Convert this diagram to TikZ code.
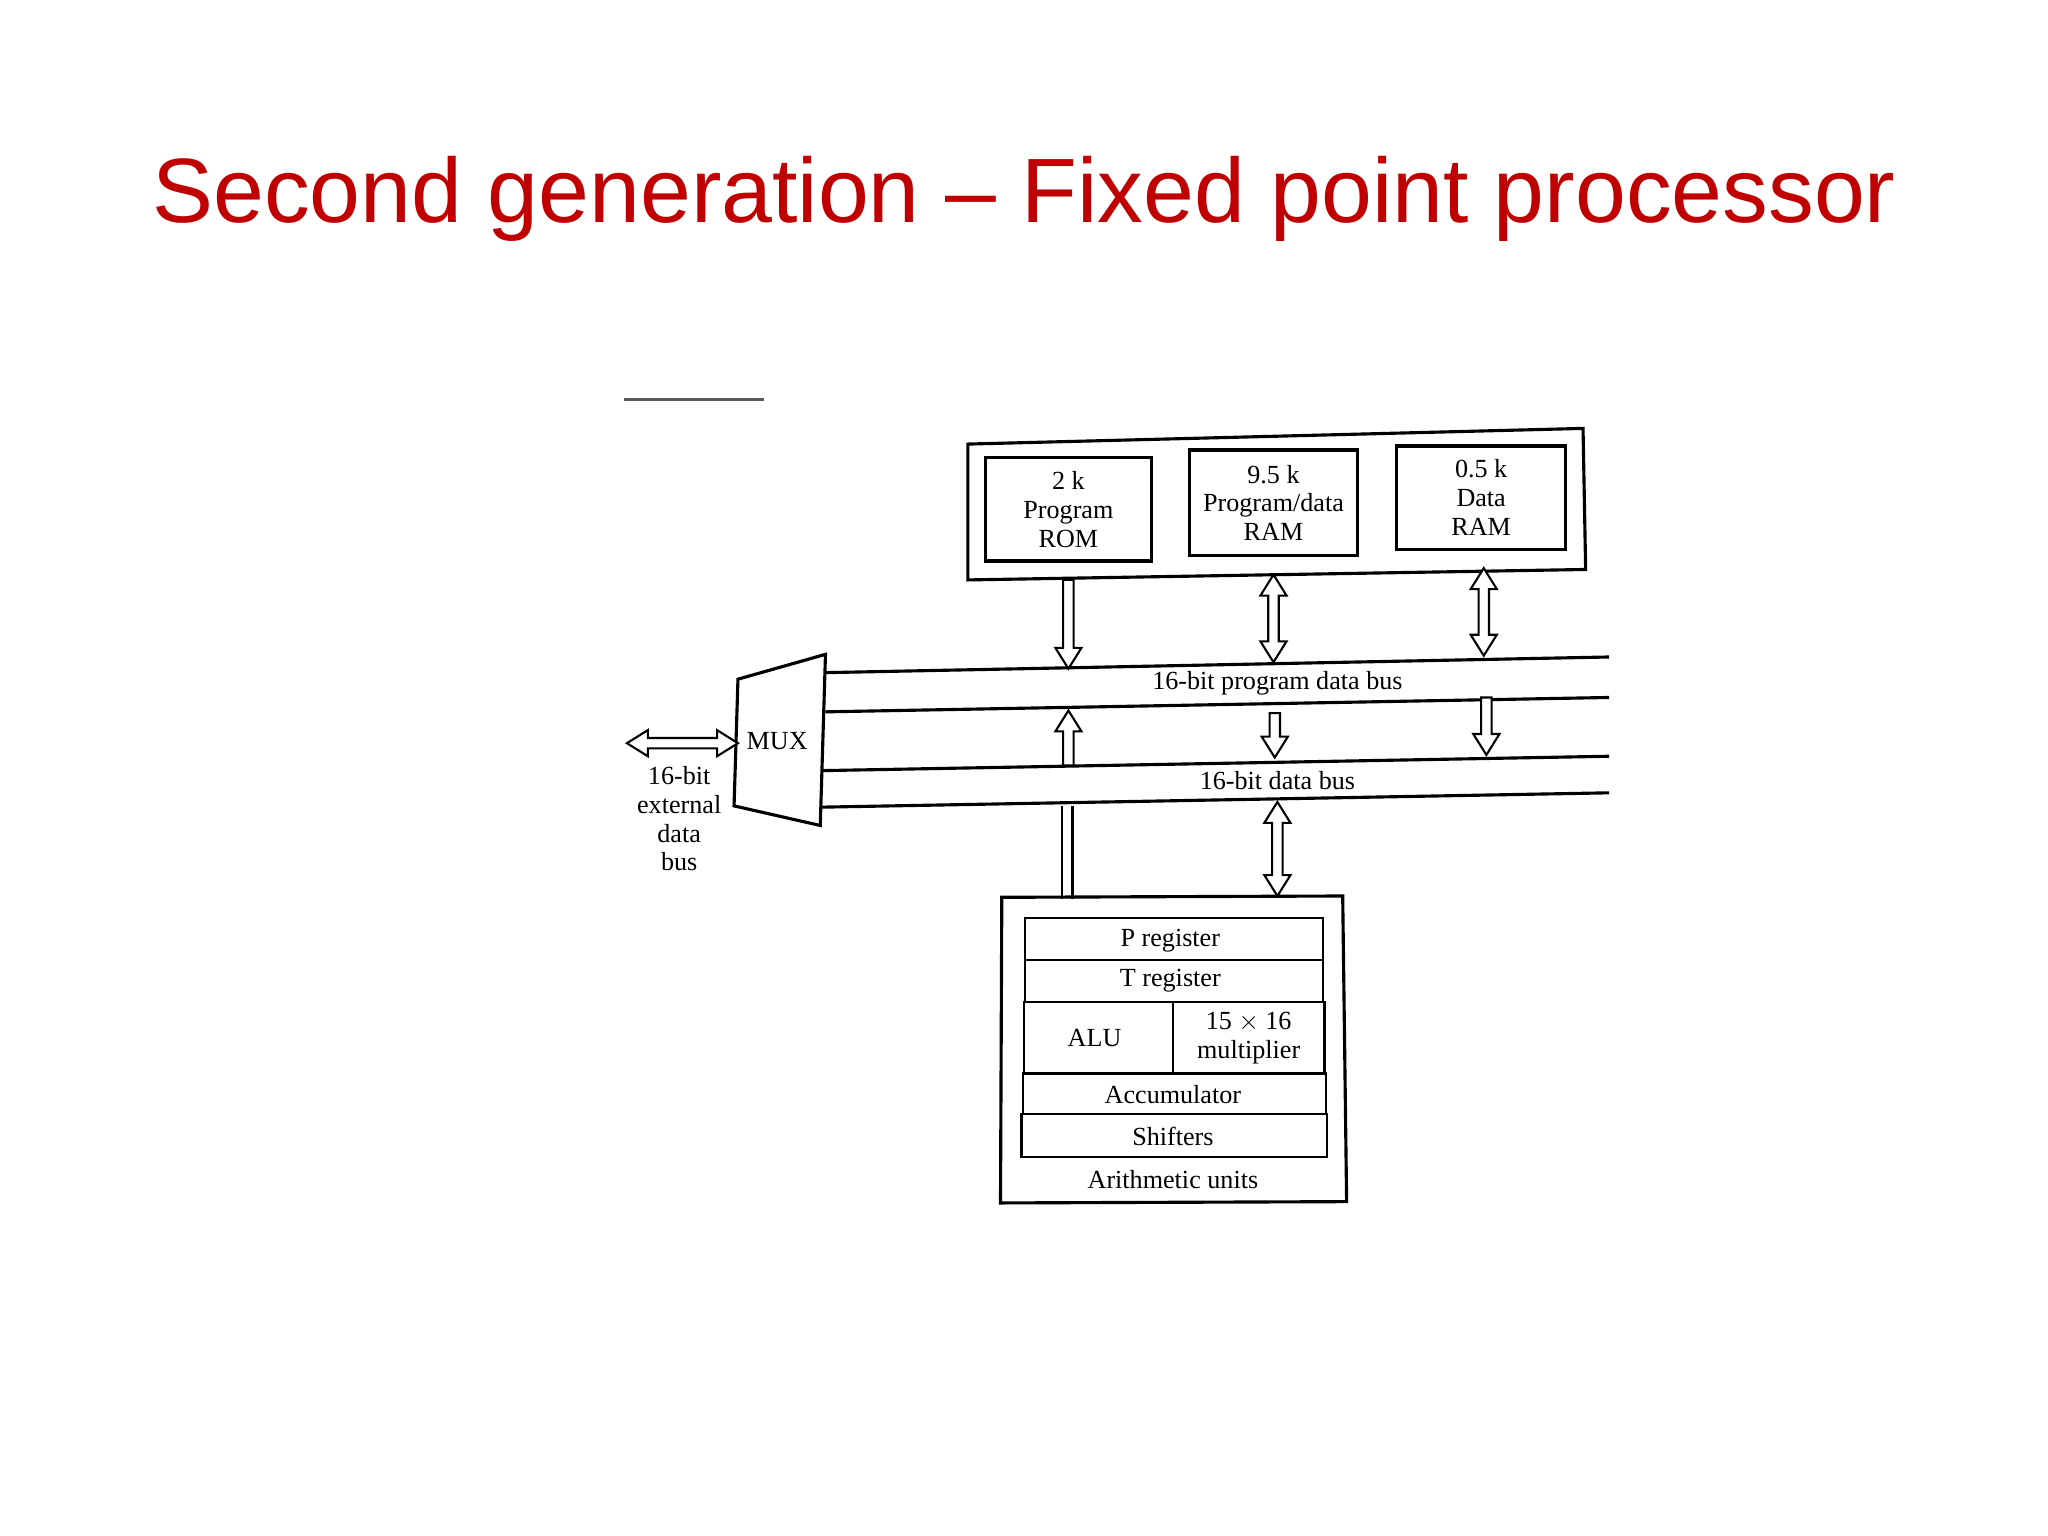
\documentclass[tikz,border=0pt]{standalone}
\usepackage{fontspec}
\setmainfont{Liberation Serif}
\newfontfamily\titlefont{Liberation Sans}
\definecolor{titlered}{RGB}{192,0,0}
\tikzset{
 box/.style={draw,line width=1.2pt},
 cell/.style={draw,line width=0.9pt},
 lbl/.style={font=\fontsize{10}{11}\selectfont,align=center,inner sep=0pt},
 busline/.style={line width=1.2pt},
 harrow/.style={draw,line width=0.8pt,fill=white,line join=miter}
}
\newcommand{\hArrowOne}[3]{%
 \pgfmathsetmacro{\dir}{#3>#2?1:-1}%
 \path[harrow] (#1-4,#2) -- (#1-4,#3-\dir*16) -- (#1-10,#3-\dir*16) -- (#1,#3) -- (#1+10,#3-\dir*16) -- (#1+4,#3-\dir*16) -- (#1+4,#2) -- cycle;}
\newcommand{\hArrowTwo}[3]{%
 \path[harrow] (#1-4,#2+16) -- (#1-4,#3-16) -- (#1-10,#3-16) -- (#1,#3) -- (#1+10,#3-16) -- (#1+4,#3-16) -- (#1+4,#2+16) -- (#1+10,#2+16) -- (#1,#2) -- (#1-10,#2+16) -- cycle;}
\begin{document}
\begin{tikzpicture}[x=0.5pt,y=-0.5pt]
\useasboundingbox (0,0) rectangle (1568,1176);
\fill[white] (0,0) rectangle (1568,1176);
\node[anchor=base,font=\titlefont\fontsize{35}{38}\selectfont,text=titlered] (title) at (784,170) {Second generation – Fixed point processor};
\draw[line width=1pt,gray!70!black] (478,306) -- (585,306);
% memory
\draw[box] (741,340) -- (1212,328) -- (1214,436) -- (741,444) -- cycle;
\node[box,minimum width=63.5pt,minimum height=39.5pt] (rom) at (818,390) {};
\node[lbl] at (rom) {2 k\\Program\\ROM};
\node[box,minimum width=64.5pt,minimum height=40.5pt] (ram) at (975,385) {};
\node[lbl] at (ram) {9.5 k\\Program/data\\RAM};
\node[box,minimum width=64.5pt,minimum height=39.5pt] (dram) at (1134,381) {};
\node[lbl] at (dram) {0.5 k\\Data\\RAM};
% buses
\draw[busline] (632,515) -- (1232,503);
\draw[busline] (632,545) -- (1232,534);
\draw[busline] (630,590) -- (1232,579);
\draw[busline] (628,618) -- (1232,607);
\node[lbl,fill=white,inner sep=1pt] (pbus) at (978,523) {16-bit program data bus};
\node[lbl,fill=white,inner sep=1pt] (dbus) at (978,598) {16-bit data bus};
% mux
\draw[box,fill=white] (565,520) -- (632,501) -- (628,632) -- (562,617) -- cycle;
\node[lbl] (mux) at (595,567) {MUX};
\path[harrow] (480,569) -- (496,559) -- (496,565) -- (549,565) -- (549,559) -- (565,569) -- (549,579) -- (549,573) -- (496,573) -- (496,579) -- cycle;
\node[lbl] (ext) at (520,627) {16-bit\\external\\data\\bus};
% arrows
\hArrowOne{818}{444}{512}
\hArrowTwo{975}{440}{507}
\hArrowTwo{1136}{435}{502}
\hArrowOne{818}{586}{544}
\hArrowOne{976}{546}{580}
\hArrowOne{1138}{534}{578}
\draw[line width=1pt] (813,617) -- (813,688) (821,617) -- (821,688);
\hArrowTwo{978}{614}{686}
% arithmetic
\draw[box] (767,687) -- (1028,686) -- (1031,920) -- (766,921) -- cycle;
\draw[cell] (785,703) rectangle (1013,735);
\draw[cell] (785,735) rectangle (1013,767);
\draw[cell] (784,767) rectangle (1014,822);
\draw[cell] (898,767) -- (898,822);
\draw[cell] (783,822) rectangle (1015,853);
\draw[cell] (782,853) rectangle (1016,886);
\node[lbl] (preg) at (896,720) {P register};
\node[lbl] (treg) at (896,751) {T register};
\node[lbl] (alu) at (838,795) {ALU};
\node[lbl] (mul) at (956,795) {15 $\times$ 16\\multiplier};
\node[lbl] (acc) at (898,838) {Accumulator};
\node[lbl] (sh) at (898,870) {Shifters};
\node[lbl] (au) at (898,903) {Arithmetic units};
\end{tikzpicture}
\end{document}
